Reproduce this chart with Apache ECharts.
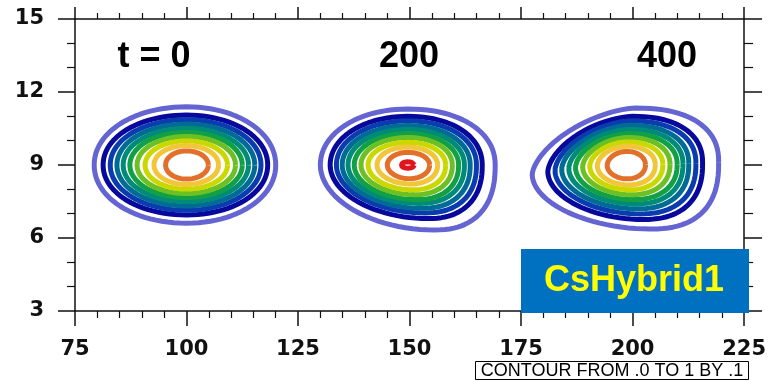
<!DOCTYPE html>
<html><head><meta charset="utf-8">
<script src="https://cdn.jsdelivr.net/npm/echarts@6/dist/echarts.min.js"></script>
<style>html,body{margin:0;padding:0;background:#fff}#c{width:769px;height:381px}</style>
</head><body><div id="c"></div>
<script>
// ---- data ----
const xTicks = [75, 100, 125, 150, 175, 200, 225];
const yTicks = [3, 6, 9, 12, 15];
const panelTitles = ['t = 0', '200', '400'];
const levels = [0.0, 0.1, 0.2, 0.3, 0.4, 0.5, 0.6, 0.7, 0.8, 0.9, 1.0];
const levelColors = ['#6464d2', '#08089c', '#0a3cb0', '#006c96', '#008a78', '#12a046', '#6cc024', '#cbd800', '#f2c63a', '#e2702a', '#e0141c'];
const blobCenterX = [100, 149.6, 198.6];
const blobCenterY = [9.0, 9.0, 9.0];
// contour extents from each blob centre (data units), one entry per contour level (outer -> inner)
const t0West  = [20.7, 18.7, 17.1, 15.6, 14.2, 12.7, 11.1, 9.3, 7.3, 4.7];
const t0East  = [20.0, 18.2, 16.7, 15.3, 13.9, 12.5, 11.0, 9.2, 7.2, 4.9];
const t0South = [2.39, 2.05, 1.86, 1.68, 1.50, 1.34, 1.17, 0.99, 0.80, 0.58];
const t0North = [2.39, 2.05, 1.86, 1.68, 1.50, 1.34, 1.17, 0.99, 0.80, 0.58];
const t200West  = [19.6, 17.4, 16.0, 14.7, 13.4, 12.0, 10.5, 8.9, 6.9, 4.6, 1.5];
const t200East  = [19.6, 16.7, 15.4, 14.0, 12.7, 11.4, 10.0, 8.5, 6.7, 4.9, 1.5];
const t200South = [2.67, 2.20, 1.97, 1.78, 1.58, 1.42, 1.22, 1.02, 0.78, 0.56, 0.13];
const t200North = [2.30, 2.00, 1.81, 1.62, 1.46, 1.29, 1.13, 0.93, 0.74, 0.52, 0.13];
const t400West  = [21.1, 17.6, 16.0, 14.5, 12.9, 11.4, 9.8, 8.2, 6.5, 4.3];
const t400East  = [20.7, 17.1, 15.6, 14.0, 12.7, 11.4, 9.8, 8.2, 6.5, 4.3];
const t400South = [2.63, 2.24, 2.01, 1.80, 1.60, 1.42, 1.22, 1.02, 0.82, 0.57];
const t400North = [2.34, 2.00, 1.81, 1.63, 1.46, 1.29, 1.13, 0.95, 0.77, 0.56];
const contourNote = 'CONTOUR FROM .0 TO 1 BY .1';
const schemeName = 'CsHybrid1';

// ---- shape description of each blob's outline (quadrant exponents NE,NW,SW,SE; extreme shifts) ----
const blobShape = [
  {exp: [2.05, 2.05, 2.05, 2.05], topShift: 0, bottomShift: 0, leftDrop: 0, rightRise: 0},
  {exp: [2.15, 2.05, 1.95, 2.4], topShift: 0, bottomShift: 0.3, leftDrop: 0, rightRise: 0},
  {exp: [2.35, 1.6, 1.9, 2.5], topShift: 0.1, bottomShift: 0.25, leftDrop: 0.15, rightRise: 0.05}
];
const blobs = [
  {W: t0West, E: t0East, S: t0South, N: t0North},
  {W: t200West, E: t200East, S: t200South, N: t200North},
  {W: t400West, E: t400East, S: t400South, N: t400North}
];

function quadrant(A, B, n, reverse) {
  const cx = B[0], cy = A[1], out = [], steps = 24;
  for (let i = 0; i <= steps; i++) {
    const t = (reverse ? steps - i : i) / steps * Math.PI / 2;
    const c = Math.pow(Math.cos(t), 2 / n), s = Math.pow(Math.sin(t), 2 / n);
    out.push([cx + (A[0] - cx) * c, cy + (B[1] - cy) * s]);
  }
  return out;
}
function ring(cx, cy, W, E, S, N, sh, k) {
  const ex = sh.exp.map(n => 2 + (n - 2) * k);
  const R = [cx + E, cy + sh.rightRise * k * N];
  const T = [cx + sh.topShift * k * E, cy + N];
  const L = [cx - W, cy - sh.leftDrop * k * S];
  const B = [cx + sh.bottomShift * k * E, cy - S];
  return [].concat(quadrant(R, T, ex[0], false), quadrant(L, T, ex[1], true),
                   quadrant(L, B, ex[2], false), quadrant(R, B, ex[3], true));
}

const series = [];
blobs.forEach((b, bi) => {
  b.W.forEach((w, i) => {
    const k = w / b.W[0];
    series.push({
      type: 'line', silent: true, showSymbol: false, animation: false,
      name: 'blob' + bi + '_' + levels[i],
      data: ring(blobCenterX[bi], blobCenterY[bi], w, b.E[i], b.S[i], b.N[i], blobShape[bi], k),
      lineStyle: {color: levelColors[i], width: 5},
      z: 2 + i
    });
  });
});

const ink = '#111';
function xAx(pos, tick, minor, showLabel) {
  return {type: 'value', position: pos, min: xTicks[0], max: xTicks[xTicks.length - 1], interval: 25,
    axisLine: {show: true, onZero: false, lineStyle: {color: ink, width: 1.5}},
    axisTick: {show: true, length: tick, lineStyle: {color: ink, width: 1.5}},
    minorTick: {show: true, splitNumber: 5, length: minor, lineStyle: {color: ink, width: 1.2}},
    splitLine: {show: false}, minorSplitLine: {show: false},
    axisLabel: {show: showLabel, showMinLabel: true, showMaxLabel: true, hideOverlap: false, margin: 28, color: ink,
      fontFamily: 'DejaVu Sans', fontWeight: 'bold', fontSize: 21}};
}
function yAx(pos, tick, minor, showLabel) {
  return {type: 'value', position: pos, min: yTicks[0], max: yTicks[yTicks.length - 1], interval: 3,
    axisLine: {show: true, onZero: false, lineStyle: {color: ink, width: 1.5}},
    axisTick: {show: true, length: tick, lineStyle: {color: ink, width: 1.5}},
    minorTick: {show: true, splitNumber: 3, length: minor, lineStyle: {color: ink, width: 1.2}},
    splitLine: {show: false}, minorSplitLine: {show: false},
    axisLabel: {show: showLabel, showMinLabel: true, showMaxLabel: true, hideOverlap: false, margin: 31, color: ink,
      fontFamily: 'DejaVu Sans', fontWeight: 'bold', fontSize: 21}};
}

const titleX = [154, 409, 667];
const chart = echarts.init(document.getElementById('c'), null, {renderer: 'canvas'});
chart.setOption({
  animation: false,
  backgroundColor: '#fff',
  grid: {left: 75, right: 20, top: 19, bottom: 70, containLabel: false},
  xAxis: [xAx('bottom', 15, 7, true), xAx('top', 12, 6, false)],
  yAxis: [yAx('left', 17, 8, true), yAx('right', 18, 9, false)],
  series: series,
  graphic: [
    ...panelTitles.map((t, i) => ({type: 'text', x: titleX[i], y: 57, z: 50,
      style: {text: t, font: 'bold 36px "Liberation Sans", Arial, sans-serif', fill: '#000', align: 'center', verticalAlign: 'middle'}})),
    {type: 'rect', z: 100, shape: {x: 521, y: 249, width: 228, height: 64}, style: {fill: '#0070c0'}},
    {type: 'text', z: 101, x: 634, y: 281, style: {text: schemeName, font: 'bold 36px "Liberation Sans", Arial, sans-serif', fill: '#ffff00', align: 'center', verticalAlign: 'middle'}},
    {type: 'rect', z: 100, shape: {x: 475.5, y: 361.5, width: 273, height: 18}, style: {fill: '#fff', stroke: '#000', lineWidth: 1}},
    {type: 'text', z: 101, x: 612, y: 371, style: {text: contourNote, font: '18px "Liberation Sans", Arial, sans-serif', fill: '#000', align: 'center', verticalAlign: 'middle'}}
  ]
});
</script></body></html>
